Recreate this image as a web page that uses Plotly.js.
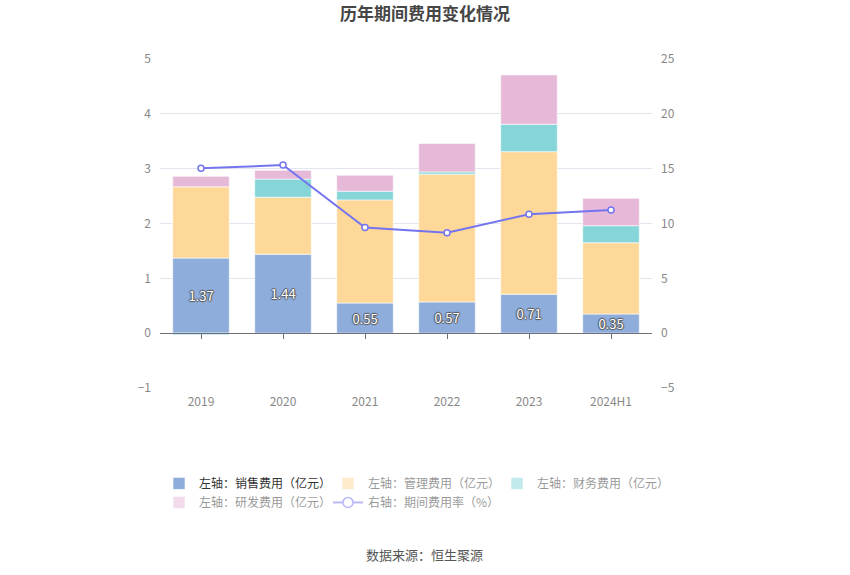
<!DOCTYPE html>
<html>
<head>
<meta charset="utf-8">
<script src="https://cdn.plot.ly/plotly-3.0.1.min.js"></script>
<style>html,body{margin:0;padding:0;background:#fff;}#chart{width:850px;height:575px;}</style>
</head>
<body>
<div id="chart"></div>
<script>
const categories = ['2019', '2020', '2021', '2022', '2023', '2024H1'];
const salesExpense = [1.37, 1.44, 0.55, 0.57, 0.71, 0.35];
const adminExpense = [1.30, 1.04, 1.88, 2.33, 2.60, 1.30];
const financeExpense = [-0.03, 0.33, 0.16, 0.04, 0.50, 0.31];
const rdExpense = [0.19, 0.16, 0.29, 0.52, 0.90, 0.50];
const expenseRate = [15.03, 15.33, 9.64, 9.15, 10.85, 11.24];
const seriesNames = ['左轴：销售费用（亿元）', '左轴：管理费用（亿元）', '左轴：财务费用（亿元）', '左轴：研发费用（亿元）', '右轴：期间费用率（%）'];

const colors = ['#8eaddb', '#fed899', '#86d5d9', '#e6b9d9', '#7474ef'];
const font = 'Microsoft YaHei, "Noto Sans CJK SC", sans-serif';

function barTrace(y, i, extra) {
  return Object.assign({
    type: 'bar', x: categories, y: y, name: seriesNames[i],
    marker: {color: colors[i], line: {color: 'rgba(255,255,255,0.6)', width: 1}},
    width: 0.69, hoverinfo: 'skip'
  }, extra || {});
}

const traces = [
  barTrace(salesExpense, 0, {
    text: salesExpense.map(v => v.toFixed(2)), textposition: 'inside', insidetextanchor: 'middle',
    textfont: {color: '#ffffff', size: 13, family: font, shadow: '1px 0 1px #555, -1px 0 1px #555, 0 1px 1px #555, 0 -1px 1px #555'},
    constraintext: 'none', legendrank: 1
  }),
  barTrace(adminExpense, 1, {showlegend: false}),
  barTrace(financeExpense, 2, {showlegend: false}),
  barTrace(rdExpense, 3, {showlegend: false}),
  {
    type: 'scatter', mode: 'lines+markers', x: categories, y: expenseRate, name: seriesNames[4],
    xaxis: 'x2', yaxis: 'y2', showlegend: false,
    line: {color: colors[4], width: 2},
    marker: {symbol: 'circle', size: 6, color: '#ffffff', line: {width: 1.5, color: colors[4]}}
  },
  // legend entries drawn in the dimmed (legend-only) state, as in the reference
  barTrace(adminExpense, 1, {visible: 'legendonly', legendrank: 2}),
  barTrace(financeExpense, 2, {visible: 'legendonly', legendrank: 3}),
  barTrace(rdExpense, 3, {visible: 'legendonly', legendrank: 4}),
  {
    type: 'scatter', mode: 'lines+markers', x: categories, y: expenseRate, name: seriesNames[4],
    xaxis: 'x2', yaxis: 'y2', visible: 'legendonly', legendrank: 5,
    line: {color: colors[4], width: 2},
    marker: {symbol: 'circle', size: 10, color: '#ffffff', line: {width: 1.5, color: colors[4]}}
  }
];

const layout = {
  width: 850, height: 575,
  margin: {l: 160, r: 198, t: 59, b: 187},
  paper_bgcolor: '#ffffff', plot_bgcolor: '#ffffff',
  font: {family: font, color: '#888', size: 12},
  title: {text: '<b>历年期间费用变化情况</b>', x: 0.5, xref: 'container', y: 0.976, yref: 'container', yanchor: 'middle',
    font: {size: 17, color: '#464646', family: font}},
  barmode: 'relative',
  showlegend: true,
  xaxis: {type: 'category', domain: [0, 1], showline: false, ticks: '', showgrid: false, zeroline: false,
    ticklabelstandoff: 5, tickfont: {size: 12, color: '#888'}, fixedrange: true},
  xaxis2: {type: 'category', matches: 'x', overlaying: 'x', anchor: 'free', position: 1/6, showline: true,
    linecolor: '#6e7079', linewidth: 1, ticks: 'outside', ticklen: 5, tickcolor: '#6e7079',
    showticklabels: false, showgrid: false, zeroline: false},
  yaxis: {range: [-1, 5], tickvals: [-1, 0, 1, 2, 3, 4, 5], domain: [0, 1], showgrid: true, gridcolor: '#e3e6ef',
    zeroline: false, showline: false, ticks: '', ticklabelstandoff: 8, tickfont: {size: 12, color: '#888'}, fixedrange: true},
  yaxis2: {range: [-5, 25], tickvals: [-5, 0, 5, 10, 15, 20, 25], overlaying: 'y', side: 'right', anchor: 'x2',
    showgrid: false, zeroline: false, showline: false, ticks: '', ticklabelstandoff: 8,
    tickfont: {size: 12, color: '#888'}, fixedrange: true},
  legend: {orientation: 'h', x: -0.002, xref: 'paper', xanchor: 'left', y: -0.246, yref: 'paper', yanchor: 'top',
    entrywidth: 124, entrywidthmode: 'pixels', traceorder: 'normal', itemclick: false,
    font: {size: 12, color: '#333', family: font}, tracegroupgap: 0},
  annotations: [{text: '数据来源：恒生聚源', xref: 'paper', yref: 'paper', x: 0.5386, y: -0.5046,
    xanchor: 'center', yanchor: 'middle', showarrow: false, font: {size: 13, color: '#555', family: font}}]
};

Plotly.newPlot('chart', traces, layout, {displayModeBar: false, staticPlot: true});
</script>
</body>
</html>
